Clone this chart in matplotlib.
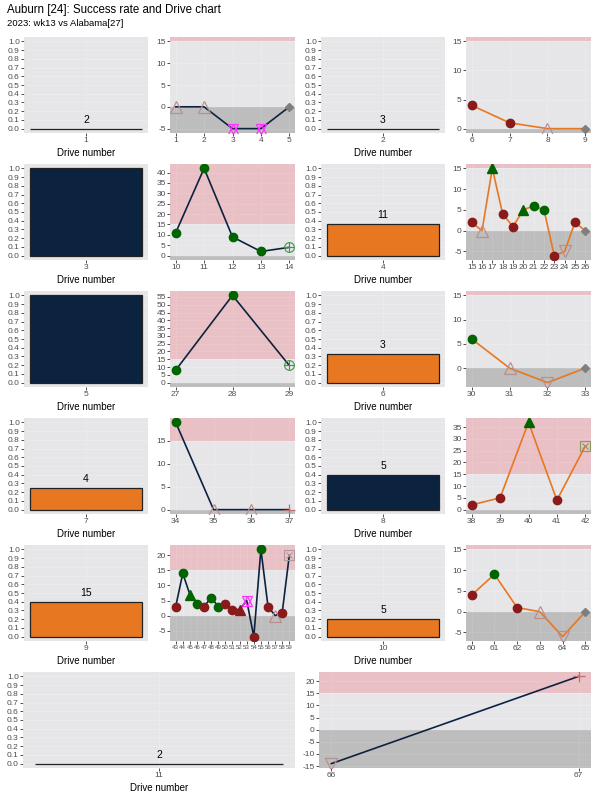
import matplotlib
matplotlib.use('Agg')
import matplotlib.pyplot as plt
from matplotlib.patches import Rectangle
from matplotlib.ticker import MultipleLocator, FixedLocator
import numpy as np

plt.rcParams['font.family'] = ['Liberation Sans', 'DejaVu Sans']

title = "Auburn [24]: Success rate and Drive chart"
subtitle = "2023: wk13 vs Alabama[27]"

NAVY = '#0C2340'
ORANGE = '#E87722'

drives = [1, 2, 3, 4, 5, 6, 7, 8, 9, 10, 11]
success_rate = [0.0, 0.0, 1.0, 0.364, 1.0, 0.333, 0.25, 0.4, 0.4, 0.2, 0.0]
drive_play_counts = [2, 3, 5, 11, 3, 3, 4, 5, 15, 5, 2]
bar_colors = [ORANGE, ORANGE, NAVY, ORANGE, NAVY, ORANGE, ORANGE, NAVY, ORANGE, ORANGE, ORANGE]
line_colors = [NAVY, ORANGE, NAVY, ORANGE, NAVY, ORANGE, NAVY, ORANGE, NAVY, ORANGE, NAVY]

play_numbers = [
    [1, 2, 3, 4, 5],
    [6, 7, 8, 9],
    [10, 11, 12, 13, 14],
    [15, 16, 17, 18, 19, 20, 21, 22, 23, 24, 25, 26],
    [27, 28, 29],
    [30, 31, 32, 33],
    [34, 35, 36, 37],
    [38, 39, 40, 41, 42],
    [43, 44, 45, 46, 47, 48, 49, 50, 51, 52, 53, 54, 55, 56, 57, 58, 59],
    [60, 61, 62, 63, 64, 65],
    [66, 67],
]
yards = [
    [0, 0, -5, -5, 0],
    [4, 1, 0, 0],
    [11, 42, 9, 2, 4],
    [2, 0, 15, 4, 1, 5, 6, 5, -6, -5, 2, 0],
    [8, 56, 11],
    [6, 0, -3, 0],
    [19, 0, 0, 0],
    [2, 5, 37, 4, 27],
    [3, 14, 7, 4, 3, 6, 3, 4, 2, 2, 5, -7, 22, 3, 0, 1, 20],
    [4, 9, 1, 0, -6, 0],
    [-14, 22],
]
play_types = [
    ['INC', 'INC', 'PEN', 'PEN', 'PUNT'],
    ['R-', 'R-', 'INC', 'PUNT'],
    ['R+', 'R+', 'R+', 'R+', 'TD'],
    ['R-', 'INC', 'P+', 'R-', 'R-', 'P+', 'R+', 'R+', 'R-', 'SACK', 'R-', 'PUNT'],
    ['R+', 'R+', 'TD'],
    ['R+', 'INC', 'SACK', 'PUNT'],
    ['R+', 'INC', 'INC', 'END'],
    ['R-', 'R-', 'P+', 'R-', 'SQ'],
    ['R-', 'R+', 'P+', 'R+', 'R-', 'R+', 'R+', 'R-', 'R-', 'P-', 'PEN', 'R-', 'R+', 'R-', 'INC', 'R-', 'SQ2'],
    ['R-', 'R+', 'R-', 'INC', 'SACK', 'PUNT'],
    ['SACK', 'END'],
]

DARKRED = '#8B1A1A'
GREEN = '#006400'
ROSY = '#BC8F8F'
MAGENTA = '#FF33FF'

styles = {
    'R-': [dict(marker='o', mfc=DARKRED, mec=DARKRED, ms=6)],
    'R+': [dict(marker='o', mfc=GREEN, mec=GREEN, ms=6)],
    'P+': [dict(marker='^', mfc=GREEN, mec=GREEN, ms=7)],
    'P-': [dict(marker='^', mfc=DARKRED, mec=DARKRED, ms=7)],
    'INC': [dict(marker='^', mfc='none', mec=ROSY, ms=8, mew=0.9)],
    'SACK': [dict(marker='v', mfc='none', mec=ROSY, ms=8, mew=0.9)],
    'PEN': [dict(marker='^', mfc='none', mec=MAGENTA, ms=7.5, mew=0.9),
            dict(marker='v', mfc='none', mec=MAGENTA, ms=7.5, mew=0.9)],
    'PUNT': [dict(marker='D', mfc='#7F7F7F', mec='#7F7F7F', ms=4)],
    'TD': [dict(marker='o', mfc='none', mec='#3C9A3C', ms=7, mew=0.8),
           dict(marker='+', mfc='none', mec='#3C9A3C', ms=7, mew=0.8)],
    'SQ': [dict(marker='s', mfc='none', mec='#8A9A5B', ms=6.5, mew=0.8),
           dict(marker='x', mfc='none', mec='#8A9A5B', ms=4.5, mew=0.8)],
    'SQ2': [dict(marker='s', mfc='none', mec='#B0999C', ms=6.5, mew=0.8),
            dict(marker='x', mfc='none', mec='#B0999C', ms=4.5, mew=0.8)],
    'END': [dict(marker='+', mfc='none', mec='#C07070', ms=9, mew=0.9)],
}

BG = '#EBEBEB'
RED_F = '#E7AFB5'
MID_F = '#E4E4E8'
GRAY_F = '#AAAAAA'
TICK_C = '#4D4D4D'

fig = plt.figure(figsize=(6, 8), dpi=100)
fig.patch.set_facecolor('white')


def add_ax(x0, x1, top, h=96):
    return fig.add_axes([x0 / 600, 1 - (top + h) / 800, (x1 - x0) / 600, h / 800])


def style_ax(ax):
    ax.set_facecolor(BG)
    for s in ax.spines.values():
        s.set_visible(False)
    ax.tick_params(axis='both', which='major', labelsize=6, labelcolor=TICK_C,
                   color='#333333', length=2, width=0.6, pad=1)
    ax.tick_params(axis='both', which='minor', length=0)
    ax.set_axisbelow(True)
    ax.grid(True, which='major', color='white', lw=0.7)
    ax.grid(True, which='minor', axis='y', color='white', lw=0.35)


def draw_bar(ax, i):
    style_ax(ax)
    ax.add_patch(Rectangle((-0.5, -1), 1, 3, facecolor=MID_F, alpha=0.7,
                           edgecolor='none', zorder=1))
    ax.bar([0], [success_rate[i]], width=0.91, color=bar_colors[i],
           edgecolor='#222222', linewidth=0.9, zorder=3)
    label_y = success_rate[i] + 0.1
    if label_y <= 1.0:
        ax.text(0, label_y, str(drive_play_counts[i]), ha='center',
                va='center', fontsize=7.5, color='black', zorder=4)
    ax.set_xlim(-0.5, 0.5)
    ax.set_ylim(-0.05, 1.05)
    ax.set_xticks([0])
    ax.set_xticklabels([str(drives[i])])
    ax.yaxis.set_major_locator(FixedLocator(np.round(np.arange(0, 1.01, 0.1), 1)))
    ax.set_yticklabels(['%.1f' % v for v in np.arange(0, 1.01, 0.1)])
    ax.yaxis.set_minor_locator(FixedLocator(np.arange(0.05, 1.0, 0.1)))
    ax.set_xlabel('Drive number', fontsize=7, labelpad=2.5)


def draw_line(ax, i):
    style_ax(ax)
    px = play_numbers[i]
    py = yards[i]
    lo = min(0, min(py))
    hi = max(15, max(py))
    pad = (hi - lo) * 0.05
    ylo, yhi = lo - pad, hi + pad
    xpad = (px[-1] - px[0]) * 0.05
    xlo, xhi = px[0] - xpad, px[-1] + xpad
    ax.add_patch(Rectangle((xlo - 1, 15), xhi - xlo + 2, yhi - 15 + 5,
                           facecolor=RED_F, alpha=0.7, edgecolor='none', zorder=1))
    ax.add_patch(Rectangle((xlo - 1, 0), xhi - xlo + 2, 15,
                           facecolor=MID_F, alpha=0.7, edgecolor='none', zorder=1))
    ax.add_patch(Rectangle((xlo - 1, ylo - 5), xhi - xlo + 2, 0 - ylo + 5,
                           facecolor=GRAY_F, alpha=0.7, edgecolor='none', zorder=1))
    ax.plot(px, py, color=line_colors[i], lw=1.2, zorder=3)
    for x, y, t in zip(px, py, play_types[i]):
        for st in styles[t]:
            ax.plot([x], [y], linestyle='none', zorder=4, **st)
    ax.set_xlim(xlo, xhi)
    ax.set_ylim(ylo, yhi)
    ax.set_xticks(px)
    ax.set_xticklabels([str(p) for p in px])
    if len(px) > 14:
        ax.tick_params(axis='x', labelsize=4.4)
    ax.yaxis.set_major_locator(MultipleLocator(5))
    ax.yaxis.set_minor_locator(FixedLocator(np.arange(-40, 80, 5) + 2.5))
    ax.yaxis.set_major_formatter(matplotlib.ticker.FuncFormatter(lambda v, p: '%d' % v))


bar_cols = [(24, 148), (321, 445)]
line_cols = [(170, 295), (466, 591)]
row_tops = [37, 164, 291, 418, 545, 672]

for i in range(10):
    r = i // 2
    c = i % 2
    axb = add_ax(bar_cols[c][0], bar_cols[c][1], row_tops[r])
    draw_bar(axb, i)
    axl = add_ax(line_cols[c][0], line_cols[c][1], row_tops[r])
    draw_line(axl, i)

axb = add_ax(23, 295, row_tops[5])
draw_bar(axb, 10)
axl = add_ax(319, 591, row_tops[5])
draw_line(axl, 10)

fig.text(7 / 600, 1 - 10 / 800, title, fontsize=8.3, va='center', ha='left')
fig.text(7 / 600, 1 - 24 / 800, subtitle, fontsize=6.8, va='center', ha='left')

fig.savefig('out.png', dpi=100)
